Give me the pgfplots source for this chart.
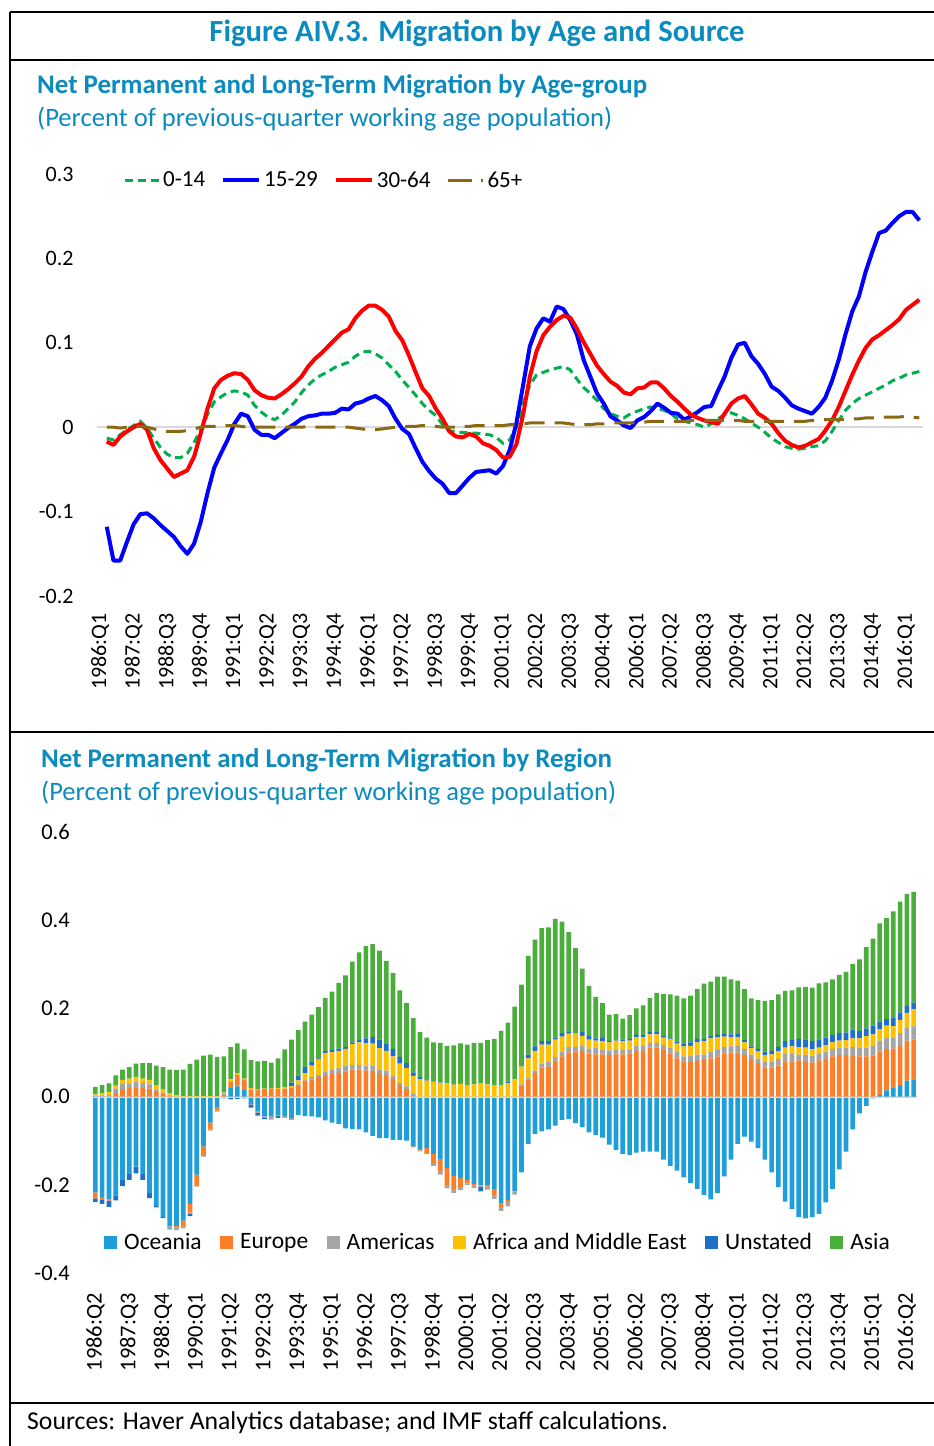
\documentclass[border=0pt]{standalone}
\usepackage{pgfplots}
\pgfplotsset{compat=1.18}
\usepackage{pgfplotstable}
\usepackage{fontspec}
\setmainfont{Carlito}

\definecolor{ttl}{HTML}{0C8BBE}
\definecolor{zl}{HTML}{D9D9D9}
\definecolor{cg}{HTML}{00B050}
\definecolor{cb}{HTML}{0000FF}
\definecolor{cr}{HTML}{FF0000}
\definecolor{cbr}{HTML}{8B6914}
\definecolor{coc}{HTML}{1E9FD9}
\definecolor{ceu}{HTML}{FD7E28}
\definecolor{cam}{HTML}{A5A5A5}
\definecolor{caf}{HTML}{FFC000}
\definecolor{cun}{HTML}{1F6FC8}
\definecolor{cas}{HTML}{4BAE3C}

\pgfplotsset{
  linelegend/.style={legend image code/.code={\draw[##1] (0pt,0pt) -- (#1,0pt);}},
  longdashlegend/.style={legend image code/.code={\draw[##1, dash pattern=on 24pt off 9pt] (0pt,0pt) -- (35pt,0pt);}},
  sqlegend/.style={legend image code/.code={\fill[##1] (0pt,-6.5pt) rectangle (13pt,6.5pt);}},
}

% Net migration by age group, quarters 1986:Q2 (i=1) to 2016:Q3 (i=122)
\pgfplotstableread{
i a b c d
1 -0.013 -0.118 -0.017 0.000
2 -0.015 -0.158 -0.021 0.000
3 -0.009 -0.158 -0.011 -0.001
4 -0.003 -0.136 -0.005 0.000
5 0.002 -0.115 0.000 0.001
6 0.007 -0.103 0.004 0.001
7 -0.001 -0.102 -0.003 0.000
8 -0.013 -0.108 -0.025 -0.002
9 -0.024 -0.116 -0.039 -0.004
10 -0.032 -0.123 -0.049 -0.005
11 -0.036 -0.130 -0.059 -0.005
12 -0.036 -0.141 -0.055 -0.005
13 -0.031 -0.150 -0.051 -0.004
14 -0.018 -0.138 -0.035 -0.002
15 -0.003 -0.112 -0.007 0.000
16 0.015 -0.078 0.022 0.001
17 0.030 -0.048 0.046 0.001
18 0.036 -0.031 0.056 0.001
19 0.041 -0.015 0.061 0.002
20 0.043 0.004 0.064 0.002
21 0.042 0.016 0.063 0.001
22 0.038 0.013 0.056 0.000
23 0.026 -0.003 0.044 0.000
24 0.018 -0.009 0.038 0.000
25 0.012 -0.009 0.035 0.000
26 0.009 -0.013 0.034 0.000
27 0.014 -0.007 0.039 0.000
28 0.022 -0.001 0.045 0.000
29 0.030 0.004 0.052 0.000
30 0.041 0.010 0.060 0.000
31 0.050 0.013 0.072 0.001
32 0.057 0.014 0.081 0.000
33 0.062 0.016 0.088 0.000
34 0.066 0.016 0.096 0.000
35 0.071 0.017 0.104 0.000
36 0.074 0.022 0.112 0.000
37 0.077 0.021 0.116 0.000
38 0.084 0.028 0.129 -0.001
39 0.089 0.030 0.138 -0.002
40 0.090 0.034 0.144 -0.003
41 0.087 0.037 0.144 -0.003
42 0.082 0.032 0.139 -0.002
43 0.074 0.025 0.131 -0.001
44 0.066 0.010 0.114 0.000
45 0.056 -0.002 0.103 0.000
46 0.047 -0.008 0.085 0.001
47 0.038 -0.025 0.065 0.001
48 0.028 -0.041 0.046 0.002
49 0.020 -0.052 0.037 0.002
50 0.014 -0.061 0.022 0.001
51 0.003 -0.067 0.010 0.000
52 -0.004 -0.078 -0.005 0.000
53 -0.006 -0.078 -0.011 0.000
54 -0.006 -0.069 -0.012 0.001
55 -0.007 -0.060 -0.008 0.001
56 -0.007 -0.053 -0.011 0.002
57 -0.008 -0.052 -0.019 0.002
58 -0.009 -0.051 -0.022 0.002
59 -0.012 -0.055 -0.027 0.002
60 -0.019 -0.046 -0.036 0.002
61 -0.015 -0.027 -0.035 0.003
62 0.000 0.005 -0.020 0.003
63 0.028 0.050 0.015 0.004
64 0.050 0.096 0.060 0.005
65 0.062 0.117 0.090 0.005
66 0.065 0.129 0.109 0.005
67 0.068 0.125 0.119 0.005
68 0.070 0.143 0.127 0.005
69 0.072 0.140 0.132 0.005
70 0.068 0.127 0.130 0.004
71 0.057 0.110 0.117 0.003
72 0.047 0.080 0.101 0.003
73 0.040 0.060 0.087 0.003
74 0.032 0.040 0.073 0.004
75 0.022 0.028 0.063 0.004
76 0.016 0.013 0.054 0.005
77 0.013 0.008 0.049 0.005
78 0.011 0.002 0.041 0.005
79 0.016 -0.001 0.039 0.005
80 0.019 0.008 0.046 0.006
81 0.022 0.012 0.047 0.006
82 0.024 0.019 0.053 0.007
83 0.022 0.028 0.053 0.007
84 0.020 0.023 0.046 0.007
85 0.016 0.017 0.037 0.007
86 0.010 0.016 0.030 0.007
87 0.007 0.009 0.022 0.007
88 0.005 0.013 0.015 0.008
89 0.003 0.018 0.011 0.008
90 0.000 0.024 0.008 0.008
91 0.004 0.025 0.006 0.008
92 0.010 0.043 0.004 0.008
93 0.015 0.060 0.016 0.008
94 0.017 0.082 0.028 0.008
95 0.014 0.098 0.034 0.008
96 0.010 0.100 0.037 0.007
97 0.005 0.084 0.027 0.007
98 0.000 0.075 0.016 0.007
99 -0.006 0.063 0.011 0.007
100 -0.013 0.048 0.004 0.007
101 -0.018 0.043 -0.007 0.007
102 -0.023 0.035 -0.016 0.007
103 -0.025 0.026 -0.021 0.007
104 -0.026 0.022 -0.024 0.007
105 -0.025 0.019 -0.022 0.007
106 -0.023 0.016 -0.018 0.008
107 -0.022 0.024 -0.014 0.008
108 -0.016 0.035 -0.004 0.009
109 -0.005 0.055 0.008 0.009
110 0.008 0.080 0.024 0.009
111 0.020 0.110 0.043 0.009
112 0.028 0.137 0.062 0.010
113 0.034 0.155 0.079 0.010
114 0.038 0.184 0.094 0.011
115 0.042 0.208 0.104 0.011
116 0.046 0.230 0.109 0.012
117 0.050 0.233 0.115 0.012
118 0.055 0.242 0.121 0.012
119 0.058 0.250 0.128 0.012
120 0.062 0.255 0.139 0.013
121 0.064 0.255 0.145 0.012
122 0.066 0.245 0.151 0.011
}\agetable

% Net migration by region, quarters 1986:Q2 (j=0) to 2016:Q3 (j=121)
\pgfplotstableread{
j oc eu am af un asia
0 -0.217 -0.014 0.002 0.003 -0.008 0.017
1 -0.228 -0.006 0.003 0.005 -0.009 0.018
2 -0.233 -0.003 0.004 0.007 -0.014 0.019
3 -0.224 0.008 0.010 0.007 -0.011 0.023
4 -0.189 0.017 0.012 0.009 -0.014 0.023
5 -0.175 0.019 0.011 0.011 -0.014 0.026
6 -0.159 0.020 0.014 0.011 -0.015 0.030
7 -0.176 0.020 0.011 0.010 -0.013 0.035
8 -0.219 0.018 0.010 0.010 -0.011 0.038
9 -0.248 0.011 0.005 0.010 -0.003 0.044
10 -0.273 0.006 0.003 0.008 -0.002 0.050
11 -0.294 0.003 -0.005 0.005 -0.002 0.053
12 -0.293 -0.004 -0.005 0.003 -0.001 0.057
13 -0.281 -0.014 -0.004 0.001 0.000 0.060
14 -0.243 -0.020 -0.003 0.001 -0.005 0.073
15 -0.177 -0.023 -0.004 0.001 0.000 0.083
16 -0.113 -0.019 -0.004 0.001 0.000 0.092
17 -0.059 -0.015 -0.003 0.001 0.000 0.094
18 -0.024 -0.008 -0.002 0.001 0.000 0.089
19 -0.004 0.004 0.003 0.002 0.000 0.082
20 0.019 0.015 -0.003 0.005 -0.003 0.073
21 0.023 0.026 -0.003 0.004 -0.002 0.068
22 0.015 0.024 -0.002 0.002 -0.002 0.066
23 -0.017 0.015 -0.002 0.004 -0.006 0.064
24 -0.034 0.015 -0.003 0.001 -0.006 0.064
25 -0.045 0.017 -0.003 0.001 -0.003 0.063
26 -0.044 0.017 -0.008 0.001 0.000 0.059
27 -0.042 0.017 -0.002 0.002 -0.004 0.068
28 -0.044 0.018 -0.004 0.003 0.000 0.086
29 -0.049 0.020 -0.004 0.004 0.008 0.097
30 -0.042 0.026 0.002 0.009 0.011 0.103
31 -0.044 0.036 0.003 0.014 0.014 0.103
32 -0.045 0.039 0.005 0.026 0.010 0.106
33 -0.047 0.044 0.005 0.035 0.003 0.116
34 -0.054 0.049 0.008 0.042 0.004 0.121
35 -0.059 0.051 0.011 0.039 0.005 0.132
36 -0.062 0.054 0.012 0.038 0.005 0.149
37 -0.072 0.057 0.013 0.038 0.005 0.162
38 -0.073 0.062 0.010 0.047 0.004 0.183
39 -0.074 0.062 0.010 0.051 0.005 0.199
40 -0.081 0.059 0.011 0.051 0.011 0.209
41 -0.089 0.059 0.011 0.050 0.015 0.211
42 -0.094 0.053 0.009 0.048 0.019 0.202
43 -0.094 0.049 0.010 0.045 0.017 0.187
44 -0.098 0.040 0.007 0.044 0.017 0.172
45 -0.098 0.026 0.005 0.044 0.015 0.151
46 -0.100 0.017 0.006 0.042 0.011 0.136
47 -0.113 -0.002 0.006 0.041 0.008 0.123
48 -0.119 -0.003 -0.002 0.039 0.005 0.102
49 -0.117 -0.011 -0.002 0.036 0.003 0.095
50 -0.130 -0.021 -0.006 0.034 0.001 0.088
51 -0.143 -0.026 -0.008 0.032 0.001 0.089
52 -0.162 -0.038 -0.008 0.030 0.000 0.085
53 -0.180 -0.030 -0.008 0.027 0.001 0.088
54 -0.185 -0.020 -0.007 0.029 0.000 0.092
55 -0.189 -0.008 -0.003 0.026 0.000 0.092
56 -0.198 -0.004 -0.005 0.028 0.000 0.094
57 -0.200 -0.002 -0.003 0.030 -0.010 0.092
58 -0.200 -0.004 -0.007 0.028 0.000 0.100
59 -0.210 -0.013 -0.009 0.026 0.000 0.105
60 -0.242 -0.008 -0.009 0.026 0.000 0.123
61 -0.234 -0.005 -0.010 0.030 0.004 0.134
62 -0.214 -0.001 -0.007 0.039 0.000 0.165
63 -0.172 0.024 0.004 0.040 0.000 0.186
64 -0.107 0.039 0.004 0.044 0.008 0.224
65 -0.085 0.054 0.005 0.045 0.010 0.242
66 -0.079 0.066 0.009 0.043 0.008 0.256
67 -0.074 0.068 0.011 0.039 0.008 0.258
68 -0.066 0.079 0.011 0.039 0.005 0.269
69 -0.053 0.091 0.011 0.034 0.008 0.253
70 -0.051 0.100 0.013 0.030 0.005 0.225
71 -0.060 0.102 0.011 0.030 0.000 0.194
72 -0.069 0.104 0.011 0.023 0.009 0.143
73 -0.081 0.098 0.011 0.020 0.008 0.114
74 -0.087 0.096 0.014 0.017 0.005 0.094
75 -0.093 0.096 0.010 0.020 0.007 0.079
76 -0.109 0.094 0.011 0.018 0.003 0.060
77 -0.121 0.096 0.011 0.020 0.003 0.057
78 -0.130 0.096 0.010 0.019 0.004 0.048
79 -0.132 0.098 0.009 0.020 0.004 0.054
80 -0.127 0.104 0.011 0.020 0.005 0.060
81 -0.125 0.104 0.011 0.020 0.005 0.067
82 -0.125 0.111 0.011 0.019 0.005 0.078
83 -0.125 0.111 0.011 0.019 0.005 0.089
84 -0.143 0.106 0.011 0.017 0.003 0.096
85 -0.157 0.098 0.013 0.019 0.002 0.100
86 -0.168 0.087 0.014 0.019 0.005 0.104
87 -0.183 0.078 0.013 0.023 0.005 0.104
88 -0.196 0.078 0.014 0.023 0.008 0.106
89 -0.209 0.081 0.014 0.028 0.008 0.113
90 -0.223 0.085 0.010 0.031 0.005 0.125
91 -0.233 0.087 0.014 0.031 0.006 0.123
92 -0.219 0.091 0.015 0.029 0.005 0.132
93 -0.181 0.098 0.015 0.023 0.006 0.130
94 -0.143 0.100 0.014 0.021 0.006 0.125
95 -0.107 0.100 0.015 0.020 0.007 0.121
96 -0.091 0.094 0.014 0.015 0.007 0.114
97 -0.102 0.085 0.010 0.015 0.004 0.109
98 -0.117 0.076 0.010 0.017 0.005 0.111
99 -0.143 0.066 0.013 0.015 0.008 0.115
100 -0.172 0.066 0.013 0.017 0.008 0.115
101 -0.205 0.070 0.015 0.018 0.010 0.119
102 -0.238 0.080 0.017 0.014 0.015 0.114
103 -0.255 0.080 0.017 0.017 0.014 0.113
104 -0.273 0.082 0.013 0.017 0.019 0.117
105 -0.276 0.079 0.015 0.017 0.019 0.119
106 -0.273 0.077 0.016 0.014 0.019 0.121
107 -0.266 0.082 0.015 0.014 0.019 0.127
108 -0.240 0.085 0.017 0.014 0.018 0.125
109 -0.210 0.091 0.017 0.015 0.017 0.126
110 -0.165 0.094 0.016 0.017 0.017 0.132
111 -0.125 0.094 0.017 0.017 0.017 0.138
112 -0.074 0.092 0.021 0.019 0.020 0.149
113 -0.038 0.091 0.020 0.021 0.017 0.162
114 -0.021 0.091 0.020 0.026 0.017 0.185
115 -0.004 0.093 0.023 0.025 0.020 0.197
116 0.004 0.098 0.025 0.026 0.017 0.223
117 0.014 0.094 0.025 0.028 0.015 0.229
118 0.021 0.088 0.025 0.026 0.019 0.241
119 0.026 0.089 0.029 0.030 0.017 0.251
120 0.036 0.091 0.030 0.033 0.016 0.254
121 0.039 0.091 0.029 0.039 0.015 0.251
}\regtable

\begin{document}
\begin{tikzpicture}
\path[use as bounding box, fill=white] (0pt,0pt) rectangle (934pt,-1446pt);

% frame
\draw[line width=2pt] (10pt,-12pt) -- (934pt,-12pt);
\draw[line width=1.5pt] (10pt,-12pt) -- (10pt,-1446pt);
\draw[line width=1.3pt] (10pt,-60pt) -- (934pt,-60pt);
\draw[line width=2.6pt] (10pt,-60pt) -- (24pt,-60pt);
\draw[line width=1.3pt] (10pt,-732pt) -- (934pt,-732pt);
\draw[line width=2.6pt] (10pt,-732pt) -- (24pt,-732pt);
\draw[line width=2pt] (10pt,-1403pt) -- (934pt,-1403pt);

% titles
\node[anchor=base, inner sep=0pt, text=ttl, font=\fontsize{30.7}{36}\selectfont\bfseries]
  at (477pt,-41pt) {Figure AIV.3. Migration by Age and Source};
\node[anchor=base west, inner sep=0pt, text=ttl, font=\fontsize{26.9}{32}\selectfont\bfseries]
  at (37pt,-93pt) {Net Permanent and Long-Term Migration by Age-group};
\node[anchor=base west, inner sep=0pt, text=ttl, font=\fontsize{26.6}{32}\selectfont]
  at (37pt,-126pt) {(Percent of previous-quarter working age population)};
\node[anchor=base west, inner sep=0pt, text=ttl, font=\fontsize{26.9}{32}\selectfont\bfseries]
  at (41pt,-767pt) {Net Permanent and Long-Term Migration by Region};
\node[anchor=base west, inner sep=0pt, text=ttl, font=\fontsize{26.6}{32}\selectfont]
  at (41pt,-800pt) {(Percent of previous-quarter working age population)};
\node[anchor=base west, inner sep=0pt, font=\fontsize{25.7}{30}\selectfont]
  at (27pt,-1429pt) {Sources: Haver Analytics database; and IMF staff calculations.};

% ---- age-group lines ----
\begin{axis}[
  at={(96.7pt,-596pt)}, anchor=south west,
  scale only axis, width=826pt, height=422pt,
  xmin=-0.5, xmax=122.5, ymin=-0.2, ymax=0.3,
  axis line style={draw=none}, major tick length=0pt,
  ytick={-0.2,-0.1,0,0.1,0.2,0.3},
  extra y ticks={0}, extra y tick labels={},
  extra y tick style={ymajorgrids=true, major grid style={draw=zl, line width=2pt}},
  xtick={0,5,...,120},
  xticklabels={1986:Q1,1987:Q2,1988:Q3,1989:Q4,1991:Q1,1992:Q2,1993:Q3,1994:Q4,1996:Q1,1997:Q2,1998:Q3,1999:Q4,2001:Q1,2002:Q2,2003:Q3,2004:Q4,2006:Q1,2007:Q2,2008:Q3,2009:Q4,2011:Q1,2012:Q2,2013:Q3,2014:Q4,2016:Q1},
  /pgf/number format/assume math mode=true,
  tick label style={font=\fontsize{22}{26}\selectfont},
  yticklabel style={anchor=east, inner sep=0pt},
  yticklabel shift=23pt,
  xticklabel style={rotate=90, anchor=east, inner sep=0pt},
  xticklabel shift=17pt,
  clip=false,
  legend columns=4,
  legend style={at={(0.0318,0.9858)}, anchor=west, draw=none, fill=none,
    inner sep=0pt, font=\fontsize{23}{27}\selectfont,
    nodes={inner sep=0pt},
    /tikz/every odd column/.append style={column sep=3pt},
    /tikz/every even column/.append style={column sep=16pt}},
]
\addplot[cg, line width=3pt, dash pattern=on 8pt off 5pt, linelegend=34pt] table[x=i, y=a] {\agetable};
\addplot[cb, line width=4pt, line join=round, linelegend=36pt] table[x=i, y=b] {\agetable};
\addplot[cr, line width=4pt, line join=round, linelegend=36pt] table[x=i, y=c] {\agetable};
\addplot[cbr, line width=3pt, dash pattern=on 20pt off 10pt, longdashlegend] table[x=i, y=d] {\agetable};
\legend{0-14,15-29,30-64,65+}
\end{axis}

% ---- region bars: negative parts stacked downward ----
\begin{axis}[
  at={(92pt,-1273pt)}, anchor=south west,
  scale only axis, width=825pt, height=441pt,
  xmin=-0.5, xmax=121.5, ymin=-0.4, ymax=0.6,
  hide axis, ybar stacked, bar width=4.7pt,
]
\addplot[fill=coc, draw=none] table[x=j, y expr={min(\thisrow{oc},0)}] {\regtable};
\addplot[fill=ceu, draw=none] table[x=j, y expr={min(\thisrow{eu},0)}] {\regtable};
\addplot[fill=cam, draw=none] table[x=j, y expr={min(\thisrow{am},0)}] {\regtable};
\addplot[fill=caf, draw=none] table[x=j, y expr={min(\thisrow{af},0)}] {\regtable};
\addplot[fill=cun, draw=none] table[x=j, y expr={min(\thisrow{un},0)}] {\regtable};
\addplot[fill=cas, draw=none] table[x=j, y expr={min(\thisrow{asia},0)}] {\regtable};
\end{axis}

% ---- region bars: positive parts stacked upward ----
\begin{axis}[
  at={(92pt,-1273pt)}, anchor=south west,
  scale only axis, width=825pt, height=441pt,
  xmin=-0.5, xmax=121.5, ymin=-0.4, ymax=0.6,
  ybar stacked, bar width=4.7pt,
  axis line style={draw=none}, major tick length=0pt,
  ytick={-0.4,-0.2,0,0.2,0.4,0.6},
  extra y ticks={0}, extra y tick labels={},
  extra y tick style={ymajorgrids=true, major grid style={draw=zl, line width=2pt}},
  xtick={0,5,...,120},
  xticklabels={1986:Q2,1987:Q3,1988:Q4,1990:Q1,1991:Q2,1992:Q3,1993:Q4,1995:Q1,1996:Q2,1997:Q3,1998:Q4,2000:Q1,2001:Q2,2002:Q3,2003:Q4,2005:Q1,2006:Q2,2007:Q3,2008:Q4,2010:Q1,2011:Q2,2012:Q3,2013:Q4,2015:Q1,2016:Q2},
  /pgf/number format/assume math mode=true,
  tick label style={font=\fontsize{22.5}{26}\selectfont},
  yticklabel style={anchor=east, inner sep=0pt,
    /pgf/number format/fixed, /pgf/number format/fixed zerofill,
    /pgf/number format/precision=1},
  yticklabel shift=22pt,
  xticklabel style={rotate=90, anchor=east, inner sep=0pt},
  xticklabel shift=20pt,
  legend columns=6,
  legend style={at={(0.01455,0.0703)}, anchor=west, draw=none, fill=none,
    inner sep=0pt, font=\fontsize{23.5}{28}\selectfont,
    nodes={inner sep=0pt},
    /tikz/every odd column/.append style={column sep=7pt},
    /tikz/every even column/.append style={column sep=18.5pt}},
]
\addplot[fill=coc, draw=none, sqlegend] table[x=j, y expr={max(\thisrow{oc},0)}] {\regtable};
\addplot[fill=ceu, draw=none, sqlegend] table[x=j, y expr={max(\thisrow{eu},0)}] {\regtable};
\addplot[fill=cam, draw=none, sqlegend] table[x=j, y expr={max(\thisrow{am},0)}] {\regtable};
\addplot[fill=caf, draw=none, sqlegend] table[x=j, y expr={max(\thisrow{af},0)}] {\regtable};
\addplot[fill=cun, draw=none, sqlegend] table[x=j, y expr={max(\thisrow{un},0)}] {\regtable};
\addplot[fill=cas, draw=none, sqlegend] table[x=j, y expr={max(\thisrow{asia},0)}] {\regtable};
\legend{Oceania,Europe,Americas,Africa and Middle East,Unstated,Asia}
\end{axis}
\end{tikzpicture}
\end{document}
